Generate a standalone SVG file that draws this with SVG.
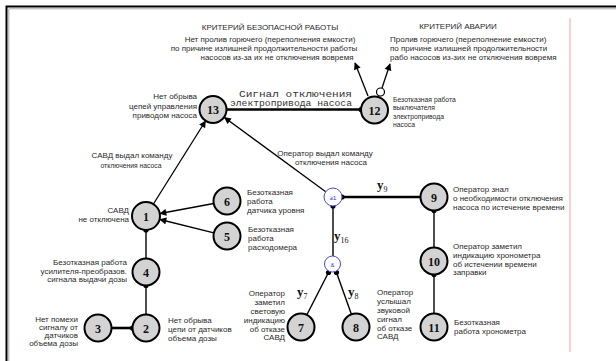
<svg xmlns="http://www.w3.org/2000/svg" width="616" height="361" viewBox="0 0 616 361">
<defs>
<marker id="ah" viewBox="0 0 10 10" refX="9" refY="5" markerWidth="8" markerHeight="7" markerUnits="userSpaceOnUse" orient="auto">
<path d="M0,0 L10,5 L0,10 z" fill="#000"/>
</marker>
</defs>
<style>
.t{font-family:"Liberation Sans",Arial,sans-serif;font-size:8px;fill:#2a2a2a}
.ts{font-size:6.8px}
.e{text-anchor:end}
.m{text-anchor:middle}
.n circle{fill:#d3d3d3;stroke:#000;stroke-width:2}
.num{font-family:"Liberation Serif","Times New Roman",serif;font-weight:bold;font-size:12px;text-anchor:middle;fill:#111}
.g circle{fill:#fff;stroke:#4a4ad0;stroke-width:1}
.gt{font-family:"Liberation Sans",Arial,sans-serif;font-size:6px;text-anchor:middle;fill:#3030c0}
.c line{stroke:#000;stroke-width:1.4}
.c .k{stroke-width:2.6}
.c .a{stroke-width:1.3;marker-end:url(#ah)}
.d{fill:#000}
.y{font-family:"Liberation Serif","Times New Roman",serif;font-weight:bold;font-size:13px;fill:#111}
.y tspan{font-size:8px;font-weight:normal}
.sig{font-family:"Liberation Mono","Courier New",monospace;font-size:8.5px;fill:#333}
</style>
<rect width="616" height="361" fill="#fff"/>
<path d="M6.5,361 V6.5 H616" fill="none" stroke="#000" stroke-width="2"/>
<path d="M8.8,361 V8.8 H616" fill="none" stroke="#aaa" stroke-width="1"/>
<line x1="570" y1="18" x2="570" y2="352" stroke="#f4a4a4" stroke-width="1"/>

<g id="criteria">
<text class="t m" x="270" y="30" font-size="8.5">КРИТЕРИЙ  БЕЗОПАСНОЙ РАБОТЫ</text>
<text class="t m" x="270" y="42">Нет пролив горючего (переполнения емкости)</text>
<text class="t m" x="264" y="51">по причине излишней продолжительности работы</text>
<text class="t m" x="277" y="60">насосов из-за их не отключения вовремя</text>
<text class="t m" x="458" y="29">КРИТЕРИЙ  АВАРИИ</text>
<text class="t" x="390" y="42">Пролив горючего (переполнение емкости)</text>
<text class="t" x="390" y="51">по причине излишней продолжительности</text>
<text class="t" x="390" y="60">рабо насосов из-зих не отключения вовремя</text>
</g>

<g id="connectors" class="c">
<line class="k" x1="226.5" y1="109.5" x2="361" y2="109.5"/>
<line class="a" x1="368" y1="96" x2="355" y2="63"/>
<line class="a" x1="382" y1="88" x2="390" y2="64"/>
<line class="a" x1="153.4" y1="204" x2="205.5" y2="121"/>
<line class="a" x1="325.7" y1="191.7" x2="224.5" y2="117.5"/>
<line class="a" x1="213.7" y1="203.5" x2="160" y2="213.5"/>
<line class="a" x1="213.9" y1="232.8" x2="160" y2="219.5"/>
<line x1="146" y1="230" x2="146" y2="258"/>
<line x1="146" y1="285.5" x2="146" y2="314"/>
<line class="k" x1="111.5" y1="328" x2="132.5" y2="328"/>
<line class="k" x1="342" y1="197" x2="420.5" y2="197"/>
<line x1="333" y1="206" x2="333" y2="256"/>
<line x1="328.5" y1="272.5" x2="307" y2="314.5"/>
<line x1="336.5" y1="272.5" x2="351.4" y2="314.3"/>
<line x1="434" y1="210.5" x2="434" y2="247.5"/>
<line x1="434" y1="274.5" x2="434" y2="313.5"/>
<circle cx="380.5" cy="92" r="4" fill="#fff" stroke="#000" stroke-width="1.2"/>
<circle class="d" cx="361" cy="109.5" r="2.6"/>
<circle class="d" cx="146" cy="230" r="2.6"/>
<circle class="d" cx="146" cy="285.5" r="2.6"/>
<circle class="d" cx="132.5" cy="328" r="2.6"/>
<circle class="d" cx="342" cy="197" r="2.6"/>
<circle class="d" cx="333" cy="206" r="2.6"/>
<circle class="d" cx="328.5" cy="272.5" r="2.6"/>
<circle class="d" cx="336.5" cy="272.5" r="2.6"/>
<circle class="d" cx="434" cy="210.5" r="2.6"/>
<circle class="d" cx="434" cy="274.5" r="2.6"/>
<text class="sig" x="239" y="97" textLength="113" lengthAdjust="spacingAndGlyphs">Сигнал  отключения</text>
<text class="sig" x="230" y="106" textLength="122" lengthAdjust="spacingAndGlyphs">электропривода насоса</text>
<text class="t m" x="132" y="158">САВД выдал  команду</text>
<text class="t m ts" x="131" y="168">отключения насоса</text>
<text class="t m" x="325" y="156">Оператор выдал команду</text>
<text class="t m" x="331" y="165">отключения насоса</text>
<text class="y" x="377" y="189">y<tspan dy="3">9</tspan></text>
<text class="y" x="334" y="240">y<tspan dy="3">16</tspan></text>
<text class="y" x="297" y="296">y<tspan dy="3">7</tspan></text>
<text class="y" x="348" y="296">y<tspan dy="3">8</tspan></text>
</g>

<g id="n13" class="n"><circle cx="213" cy="109.5" r="13.5"/><text class="num" x="213" y="114">13</text>
<text class="t e" x="197" y="99">Нет обрыва</text><text class="t e" x="197" y="108.5">цепей управления</text><text class="t e" x="197" y="118">приводом насоса</text></g>
<g id="n12" class="n"><circle cx="374.5" cy="110" r="13.5"/><text class="num" x="374.5" y="114.5">12</text>
<text class="t ts" x="393" y="102">Безотказная работа</text><text class="t ts" x="393" y="110">выключателя</text><text class="t ts" x="393" y="118.5">электропривода</text><text class="t ts" x="393" y="126.5">насоса</text></g>
<g id="n1" class="n"><circle cx="146" cy="216" r="14"/><text class="num" x="146" y="220.5">1</text>
<text class="t e" x="129" y="213">САВД</text><text class="t e" x="129" y="222">не отключена</text></g>
<g id="n6" class="n"><circle cx="227" cy="201" r="13.5"/><text class="num" x="227" y="205.5">6</text>
<text class="t" x="247" y="195">Безотказная</text><text class="t" x="247" y="204">работа</text><text class="t" x="247" y="213">датчика уровня</text></g>
<g id="n5" class="n"><circle cx="227" cy="236" r="13.5"/><text class="num" x="227" y="240.5">5</text>
<text class="t" x="248" y="232">Безотказная</text><text class="t" x="248" y="241">работа</text><text class="t" x="248" y="250">расходомера</text></g>
<g id="n4" class="n"><circle cx="146" cy="272" r="13.5"/><text class="num" x="146" y="276.5">4</text>
<text class="t e" x="127" y="265">Безотказная работа</text><text class="t e" x="127" y="273.5">усилителя-преобразов.</text><text class="t e" x="127" y="282">сигнала выдачи дозы</text></g>
<g id="n2" class="n"><circle cx="146" cy="328" r="13.5"/><text class="num" x="146" y="332.5">2</text>
<text class="t" x="168" y="323">Нет обрыва</text><text class="t" x="168" y="332">цепи от датчиков</text><text class="t" x="168" y="341">объема дозы</text></g>
<g id="n3" class="n"><circle cx="98" cy="328" r="13.5"/><text class="num" x="98" y="332.5">3</text>
<text class="t e" x="78" y="322">Нет  помехи</text><text class="t e" x="78" y="330">сигналу от</text><text class="t e" x="78" y="338">датчиков</text><text class="t e" x="78" y="346">объема дозы</text></g>
<g id="nor" class="g"><circle cx="333" cy="197" r="9"/><text class="gt" x="333" y="199.5">≥1</text></g>
<g id="nand" class="g"><circle cx="332.5" cy="264" r="8"/><text class="gt" x="332.5" y="266.5">&amp;</text></g>
<g id="n9" class="n"><circle cx="434" cy="197" r="13.5"/><text class="num" x="434" y="201.5">9</text>
<text class="t" x="453" y="192">Оператор знал</text><text class="t" x="453" y="201">о необходимости  отключения</text><text class="t" x="453" y="210">насоса по истечение времени</text></g>
<g id="n10" class="n"><circle cx="434" cy="261" r="13.5"/><text class="num" x="434" y="265.5">10</text>
<text class="t" x="453" y="249">Оператор заметил</text><text class="t" x="453" y="258">индикацию  хронометра</text><text class="t" x="453" y="266.5">об истечении времени</text><text class="t" x="453" y="275">заправки</text></g>
<g id="n11" class="n"><circle cx="434" cy="327" r="13.5"/><text class="num" x="434" y="331.5">11</text>
<text class="t" x="454" y="325">Безотказная</text><text class="t" x="454" y="334">работа хронометра</text></g>
<g id="n7" class="n"><circle cx="301" cy="327" r="13.5"/><text class="num" x="301" y="331.5">7</text>
<text class="t e" x="285" y="296">Оператор</text><text class="t e" x="285" y="305">заметил</text><text class="t e" x="285" y="314">световую</text><text class="t e" x="285" y="323">индикацию</text><text class="t e" x="285" y="331.5">об отказе</text><text class="t e" x="285" y="340">САВД</text></g>
<g id="n8" class="n"><circle cx="356" cy="327" r="13.5"/><text class="num" x="356" y="331.5">8</text>
<text class="t" x="377" y="295">Оператор</text><text class="t" x="377" y="304">услышал</text><text class="t" x="377" y="313">звуковой</text><text class="t" x="377" y="322">сигнал</text><text class="t" x="377" y="330.5">об отказе</text><text class="t" x="377" y="339">САВД</text></g>
</svg>
